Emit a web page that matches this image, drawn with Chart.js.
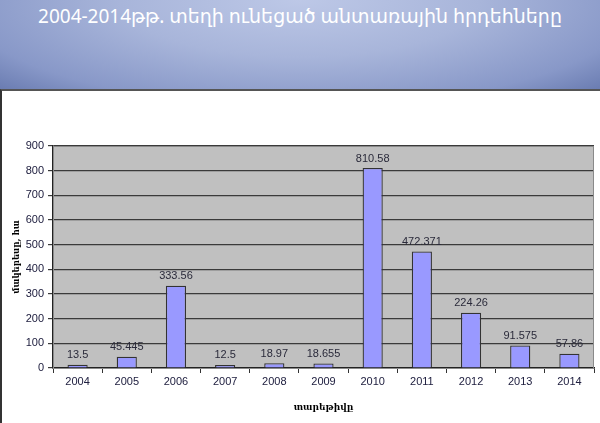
<!DOCTYPE html>
<html><head><meta charset="utf-8">
<script src="https://cdn.jsdelivr.net/npm/chart.js@4.4.1/dist/chart.umd.min.js"></script>
<style>
html,body{margin:0;padding:0;width:600px;height:423px;overflow:hidden;background:#fff;}
#banner{position:absolute;left:0;top:0;width:600px;height:89px;
 background:radial-gradient(ellipse 75% 160% at 50% 0%, #bdc8e7 0%, #a8b5da 40%, #8898c8 75%, #5b6ea6 100%);}
#title{position:absolute;left:0;top:2px;width:600px;text-align:center;color:#fff;font-family:"Noto Sans","DejaVu Sans",sans-serif;font-size:19px;line-height:28px;}
#frame{position:absolute;left:0;top:89px;width:600px;height:334px;border-top:2px solid #555;border-left:2px solid #333;box-sizing:border-box;}
#wrap{position:absolute;left:0;top:90px;width:600px;height:333px;}
</style></head>
<body>
<div id="banner"><div id="title">2004-2014թթ. տեղի ունեցած անտառային հրդեհները</div></div>
<div id="frame"></div>
<div id="wrap"><canvas id="c" width="600" height="333"></canvas></div>
<script>
const years = ["2004","2005","2006","2007","2008","2009","2010","2011","2012","2013","2014"];
const areas = [13.5,45.445,333.56,12.5,18.97,18.655,810.58,472.371,224.26,91.575,57.86];
const valueLabels = ["13.5","45.445","333.56","12.5","18.97","18.655","810.58","472.371","224.26","91.575","57.86"];
const yTitle = "մակերեսը, հա";
const xTitle = "տարեթիվը";

const bgPlugin = {
  id:'bg',
  beforeDraw(chart){
    const {ctx, chartArea:a} = chart;
    ctx.save();
    ctx.fillStyle = '#c0c0c0';
    ctx.fillRect(a.left, a.top, a.right-a.left, a.bottom-a.top);
    ctx.restore();
  },
  afterDatasetsDraw(chart){
    const {ctx, chartArea:a} = chart;
    ctx.save();
    ctx.strokeStyle = '#8a8a8a';
    ctx.lineWidth = 1;
    ctx.strokeRect(a.left+0.5, a.top+0.5, a.right-a.left-1, a.bottom-a.top);
    ctx.restore();
    const meta = chart.getDatasetMeta(0);
    ctx.save();
    ctx.font = '11px "Liberation Sans", Arial, sans-serif';
    ctx.fillStyle = '#2a2a3a';
    ctx.textAlign = 'center';
    ctx.textBaseline = 'bottom';
    meta.data.forEach((bar,i)=>{
      ctx.fillText(valueLabels[i], bar.x, bar.y - 4);
    });
    ctx.restore();
  }
};

new Chart(document.getElementById('c'), {
  type:'bar',
  data:{labels:years, datasets:[{data:areas, backgroundColor:'#9999ff', borderColor:'#333333', borderWidth:1.3,
    categoryPercentage:1, barPercentage:0.41}]},
  plugins:[bgPlugin],
  options:{
    responsive:false, animation:false, devicePixelRatio:1,
    layout:{padding:{left:0,right:6,top:56,bottom:0}},
    plugins:{legend:{display:false}, tooltip:{enabled:false}},
    scales:{
      x:{
        grid:{offset:true, drawOnChartArea:false, color:'#333', tickLength:5, lineWidth:1},
        border:{color:'#222', width:1.5},
        ticks:{color:'#202040', font:{family:'"Liberation Sans", Arial, sans-serif', size:11}, padding:2},
        title:{display:true, text:xTitle, color:'#000', font:{family:'"DejaVu Serif", serif', size:9, weight:'bold'}, padding:{top:4,bottom:10}},
        afterFit(s){ s.height = 55; }
      },
      y:{
        min:0, max:900,
        ticks:{stepSize:100, color:'#202040', font:{family:'"Liberation Sans", Arial, sans-serif', size:11}, padding:4},
        grid:{color:'#3a3a3a', lineWidth:1.2, tickLength:5, drawTicks:true},
        border:{color:'#222', width:1.5},
        title:{display:true, text:yTitle, color:'#000', font:{family:'"DejaVu Serif", serif', size:8.5, weight:'bold'}, padding:{top:12,bottom:0}},
        afterFit(s){ s.width = 53; }
      }
    }
  }
});
</script>
</body></html>
